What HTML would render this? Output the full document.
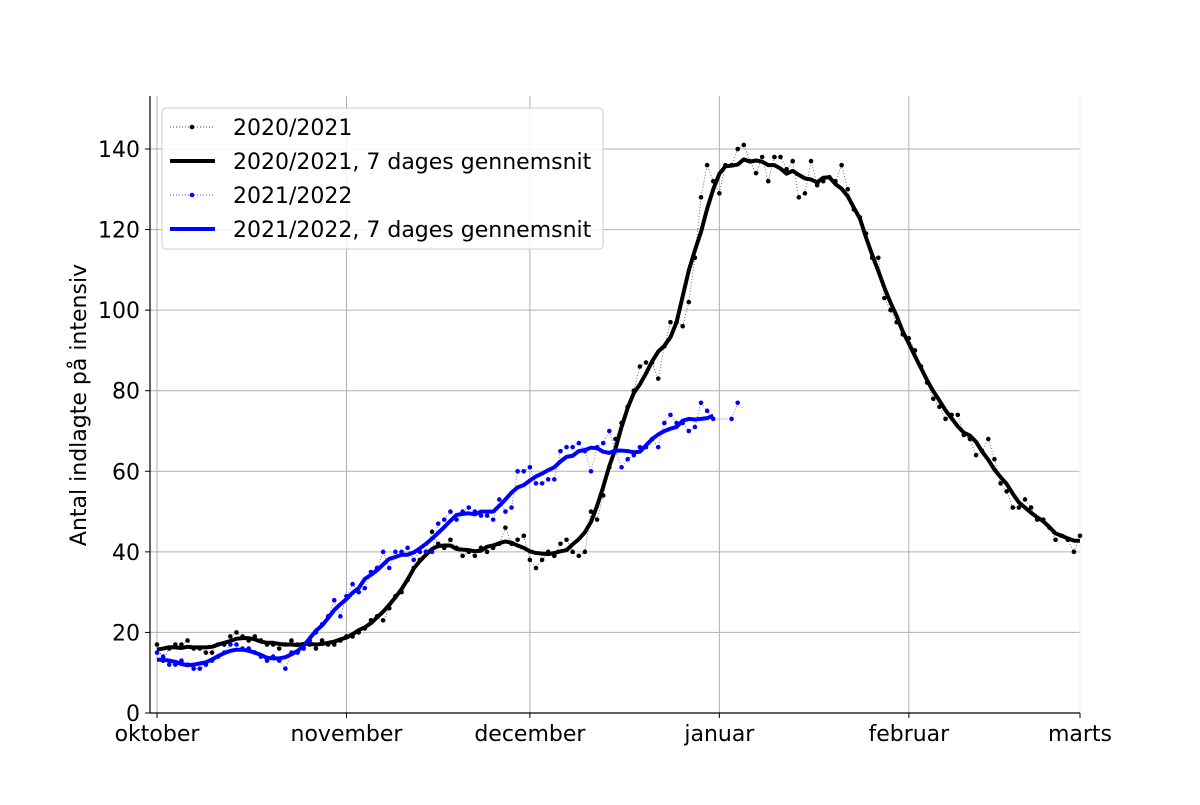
<!DOCTYPE html>
<html><head><meta charset="utf-8"><style>
body{margin:0;background:#fff;}
svg text{font-family:"DejaVu Sans","Liberation Sans",sans-serif;fill:#000;}
</style></head><body>
<svg id="chart" width="1200" height="800" viewBox="0 0 1200 800" xmlns="http://www.w3.org/2000/svg">
<g id="grid"></g><g id="series"></g><g id="axes"></g><g id="legend"></g>
</svg>
<script>
const monthLabels=["oktober","november","december","januar","februar","marts"];
const monthDays=[0,31,61,92,123,151];
const yTicks=[0,20,40,60,80,100,120,140];
const s2020=[17,13,16,17,17,18,16,16,15,15,17,17,19,20,19,18,19,18,17,17,16,17,18,17,17,17,16,18,17,17,18,
19,19,20,21,23,24,23,26,29,30,33,36,38,40,
45,42,41,43,41,39,40,39,41,40,41,42,46,42,43,44,38,36,38,40,39,42,43,40,39,40,50,
48,54,61,68,72,76,80,86,87,87,83,91,97,97,96,102,113,128,136,132,129,136,136,140,141,
137,134,138,132,138,138,135,137,128,129,137,131,132,133,132,136,130,125,123,119,113,113,103,100,97,94,93,90,86,82,
78,76,73,74,74,69,68,64,65,68,63,57,55,51,51,53,51,48,48,46,43,44,43,40,44];
const s2021=[15,14,12,12,13,12,11,11,12,13,14,15,17,17,16,16,15,14,13,14,13,11,15,15,16,18,20,22,24,28,24,29,
32,30,31,35,36,40,36,40,40,41,38,40,40,40,47,48,50,48,50,51,50,49,49,48,53,50,51,60,60,61,57,57,58,58,65,66,66,67,
65,60,66,67,70,65,61,63,64,66,66,68,66,72,74,72,72,70,71,77,75,73,null,null,73,77];
const X0=157,PXD=923/151,Y0=713,PXU=564/140;
const xs=d=>X0+d*PXD, ys=v=>Y0-v*PXU;
const NS="http://www.w3.org/2000/svg";
function mk(tag,attrs,parent){const e=document.createElementNS(NS,tag);for(const k in attrs)e.setAttribute(k,attrs[k]);parent.appendChild(e);return e;}
const grid=document.getElementById('grid'),series=document.getElementById('series'),axes=document.getElementById('axes'),legend=document.getElementById('legend');
yTicks.forEach(v=>{
 const l=mk('line',{x1:150,x2:1080,y1:ys(v),y2:ys(v),stroke:'#b0b0b0','stroke-width':1},grid);
 
 
 const t=mk('text',{x:140,y:ys(v)+8,'text-anchor':'end','font-size':22},axes);t.textContent=v;
 
 
 mk('line',{x1:145,x2:150,y1:ys(v),y2:ys(v),stroke:'#000'},axes);
});
monthDays.forEach((d,i)=>{
 const l=mk('line',{x1:xs(d),x2:xs(d),y1:96,y2:713,stroke:i==5?'#eee':'#b0b0b0','stroke-width':1},grid);
 
 
 mk('line',{x1:xs(d),x2:xs(d),y1:713,y2:718,stroke:'#000'},axes);
 const t=mk('text',{x:xs(d),y:741,'text-anchor':'middle','font-size':22},axes);t.textContent=monthLabels[i];
 
 
});
mk('line',{x1:150,x2:150,y1:96,y2:713,stroke:'#000','stroke-width':1.2},axes);
mk('line',{x1:150,x2:1080,y1:713,y2:713,stroke:'#000','stroke-width':1.2},axes);
const yl=mk('text',{x:0,y:0,transform:'translate(86,405) rotate(-90)','text-anchor':'middle','font-size':22},axes);
yl.textContent='Antal indlagte på intensiv';


function rolling(arr,last){const out=[];for(let i=0;i<=last;i++){let s=0,n=0;for(let j=i-3;j<=i+3;j++){if(j>=0&&j<arr.length&&arr[j]!=null){s+=arr[j];n++;}}out.push(n?s/n:null);}return out;}
function drawSeries(arr,color,name,smoothLast){
 let pts=[];arr.forEach((v,i)=>{if(v!=null)pts.push(xs(i)+','+ys(v));});
 const p=mk('polyline',{points:pts.join(' '),fill:'none',stroke:color,'stroke-width':0.8,'stroke-dasharray':'1,2',opacity:0.7},series);
 
 
 arr.forEach((v,i)=>{if(v==null)return;const c=mk('circle',{cx:xs(i),cy:ys(v),r:2.3,fill:color},series);
  
  });
 const sm=rolling(arr,smoothLast);
 const sp=sm.map((v,i)=>xs(i)+','+ys(v)).join(' ');
 const s=mk('polyline',{points:sp,fill:'none',stroke:color,'stroke-width':4,'stroke-linejoin':'round'},series);
 
 
}
drawSeries(s2020,'#000','season-2020-2021',s2020.length-1);
drawSeries(s2021,'#0000ff','season-2021-2022',91);
const box=mk('rect',{x:162,y:108,width:441,height:141,rx:4,fill:'#fff','fill-opacity':0.85,stroke:'#ccc'},legend);


const legItems=[["2020/2021","#000",false],["2020/2021, 7 dages gennemsnit","#000",true],["2021/2022","#0000ff",false],["2021/2022, 7 dages gennemsnit","#0000ff",true]];
legItems.forEach((it,i)=>{
 const y=127+i*34;
 const g=mk('g',{},legend);
 
 
 if(it[2]) mk('line',{x1:170,x2:215,y1:y,y2:y,stroke:it[1],'stroke-width':4},g);
 else {mk('line',{x1:170,x2:215,y1:y,y2:y,stroke:it[1],'stroke-width':0.8,'stroke-dasharray':'1,2'},g);mk('circle',{cx:192,cy:y,r:2.3,fill:it[1]},g);}
 const t=mk('text',{x:233,y:y+8,'font-size':22},g);t.textContent=it[0];
});
</script>
</body></html>
